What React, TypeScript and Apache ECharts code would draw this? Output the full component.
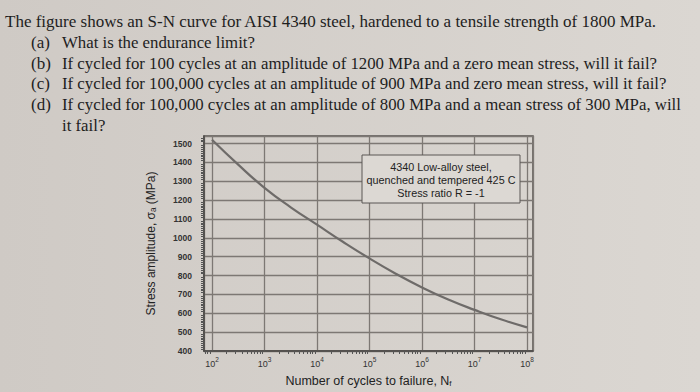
import React, { useEffect, useRef } from "react";
import * as echarts from "echarts";

const cycles = [100, 316, 1000, 3162, 10000, 31623, 100000, 316228, 1000000, 3162278, 10000000, 31622777, 100000000];
const stress = [1520, 1388, 1265, 1162, 1070, 978, 891, 810, 737, 673, 618, 568, 525];

const headline = "The figure shows an S-N curve for AISI 4340 steel, hardened to a tensile strength of 1800 MPa.";
const questionLabels = ["(a)", "(b)", "(c)", "(d)", ""];
const questionTexts = [
  "What is the endurance limit?",
  "If cycled for 100 cycles at an amplitude of 1200 MPa and a zero mean stress, will it fail?",
  "If cycled for 100,000 cycles at an amplitude of 900 MPa and zero mean stress, will it fail?",
  "If cycled for 100,000 cycles at an amplitude of 800 MPa and a mean stress of 300 MPa, will",
  "it fail?",
];
const noteLines = ["4340 Low-alloy steel,", "quenched and tempered 425 C", "Stress ratio R = -1"];

export default function App() {
  const ref = useRef<HTMLDivElement>(null);
  useEffect(() => {
    if (!ref.current) return;
    const chart = echarts.init(ref.current, undefined, { renderer: "svg" });
    const serif = "'Liberation Serif', 'Times New Roman', serif";
    const sans = "'Liberation Sans', Arial, sans-serif";
    const textColor = "#1e1e1e";
    const graphics: any[] = [];
    graphics.push({
      type: "text", left: 5, top: 13, silent: true,
      style: { text: headline, font: `17px ${serif}`, fill: textColor },
    });
    const lineY = [34, 55, 75, 96, 117];
    questionTexts.forEach((t, i) => {
      if (questionLabels[i]) {
        graphics.push({
          type: "text", left: 31, top: lineY[i], silent: true,
          style: { text: questionLabels[i], font: `17px ${serif}`, fill: textColor },
        });
      }
      graphics.push({
        type: "text", left: 62, top: lineY[i], silent: true,
        style: { text: t, font: `16.8px ${serif}`, fill: textColor },
      });
    });
    graphics.push({
      type: "rect", shape: { x: 362, y: 155, width: 158, height: 48 }, z: 10,
      style: { fill: "#dcd8d3", stroke: "#5a5755", lineWidth: 1 },
    });
    noteLines.forEach((t, i) => {
      graphics.push({
        type: "text", x: 441, y: 167 + i * 13, z: 11,
        style: { text: t, font: `10.8px ${sans}`, fill: "#222", align: "center", verticalAlign: "middle" },
      });
    });

    chart.setOption({
      animation: false,
      backgroundColor: {
        type: "linear", x: 0, y: 0, x2: 1, y2: 0,
        colorStops: [{ offset: 0, color: "#cfcac5" }, { offset: 1, color: "#dbd7d2" }],
      },
      grid: { left: 204, right: 167, top: 136, bottom: 41, show: true, borderColor: "#55514f", borderWidth: 1.5, backgroundColor: "transparent" },
      xAxis: {
        type: "log",
        min: Math.pow(10, 1.848),
        max: Math.pow(10, 8.114),
        name: "{n|Number of cycles to failure, N}{s|f}",
        nameLocation: "middle",
        nameGap: 20,
        nameTextStyle: {
          rich: {
            n: { fontSize: 12.5, fontFamily: sans, color: "#222", verticalAlign: "bottom", lineHeight: 16 },
            s: { fontSize: 8, fontFamily: sans, color: "#222", verticalAlign: "bottom", lineHeight: 12 },
          },
        },
        axisLine: { show: true, lineStyle: { color: "#4a4745", width: 1.5 } },
        axisTick: { show: false },
        minorTick: { show: true, splitNumber: 10, length: 3, lineStyle: { color: "#555" } },
        splitLine: { show: true, lineStyle: { color: "#7d7874", width: 1.3 } },
        axisLabel: {
          margin: 5,
          formatter: (v: number) => {
            const e = Math.log10(v);
            const r = Math.round(e);
            if (Math.abs(e - r) > 1e-6) return "";
            return "{b|10}{e|" + r + "}";
          },
          rich: {
            b: { fontSize: 9, fontFamily: sans, color: "#333", verticalAlign: "bottom", lineHeight: 12 },
            e: { fontSize: 6.5, fontFamily: sans, color: "#333", verticalAlign: "bottom", lineHeight: 8, padding: [0, 0, 5, 0] },
          },
        },
      },
      yAxis: {
        type: "value",
        min: 400,
        max: 1540,
        interval: 100,
        name: "Stress amplitude, σₐ (MPa)",
        nameLocation: "middle",
        nameRotate: 90,
        nameGap: 47,
        nameTextStyle: { fontSize: 12, fontFamily: sans, color: "#222" },
        axisLine: { show: true, lineStyle: { color: "#4a4745", width: 1.5 } },
        axisTick: { show: false },
        minorTick: { show: true, splitNumber: 10, length: 3, lineStyle: { color: "#555" } },
        splitLine: { show: true, lineStyle: { color: "#7d7874", width: 1.3 } },
        axisLabel: {
          margin: 12,
          fontSize: 8.5,
          fontWeight: "bold",
          fontFamily: sans,
          color: "#333",
          formatter: (v: number) => (v % 100 === 0 && v <= 1500 ? String(v) : ""),
        },
      },
      series: [
        {
          type: "line",
          data: cycles.map((c, i) => [c, stress[i]]),
          smooth: true,
          showSymbol: false,
          lineStyle: { color: "#6e6b69", width: 2.2 },
          z: 5,
        },
      ],
      graphic: graphics,
    });
    return () => chart.dispose();
  }, []);
  return <div ref={ref} style={{ position: "fixed", left: 0, top: 0, width: 700, height: 392 }} />;
}
